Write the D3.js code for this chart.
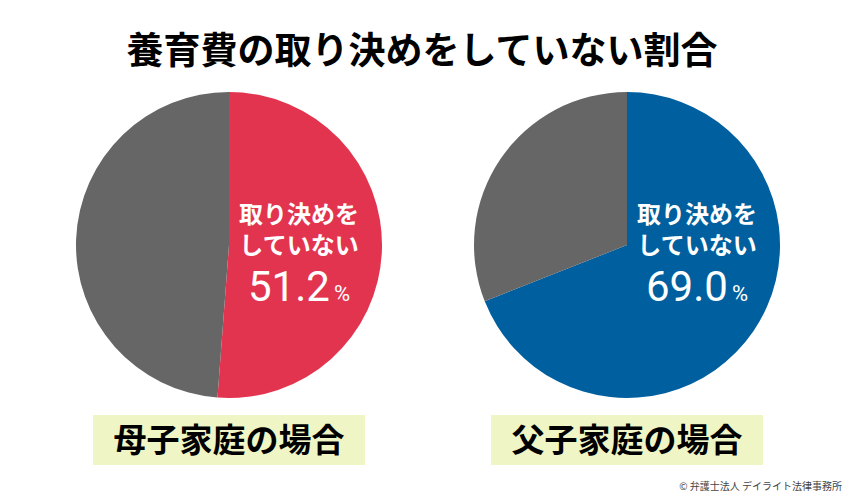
<!DOCTYPE html>
<html><head><meta charset="utf-8">
<script src="https://cdn.jsdelivr.net/npm/d3@7"></script>
<style>body{margin:0;background:#fff;font-family:"Noto Sans CJK JP",sans-serif;}</style>
</head><body>
<script>
// data
var groups = ["母子家庭の場合", "父子家庭の場合"];
var notDecided = [51.2, 69.0];
var colors = ["#e3344f", "#005f9e"];
var grey = "#666666";
var title = "養育費の取り決めをしていない割合";

var w = 850, h = 500;
var svg = d3.select("body").append("svg").attr("width", w).attr("height", h);

svg.append("text").attr("x", 422).attr("y", 64).attr("text-anchor", "middle")
  .style("font-size", "37px").style("font-weight", "bold").text(title);

var cx = d3.scalePoint().domain(groups).range([229, 627]);
var pie = d3.pie().sort(null).value(function(d){ return d; });
var arc = d3.arc().innerRadius(0).outerRadius(153);

groups.forEach(function(g, i){
  var x = cx(g);
  var gg = svg.append("g").attr("transform", "translate(" + x + ",245)");
  gg.selectAll("path").data(pie([notDecided[i], 100 - notDecided[i]]))
    .enter().append("path").attr("d", arc)
    .attr("fill", function(d, j){ return j == 0 ? colors[i] : grey; });

  var t = gg.append("g").attr("fill", "#fff").attr("text-anchor", "middle")
    .style("font-weight", "bold");
  t.append("text").attr("x", 70).attr("y", -22).style("font-size", "24px").text("取り決めを");
  t.append("text").attr("x", 70).attr("y", 9).style("font-size", "24px").text("していない");
  var v = t.append("text").attr("x", 70).attr("y", 56).style("font-family", "Roboto, sans-serif")
    .style("font-weight", "normal");
  v.append("tspan").style("font-size", "42px").text(notDecided[i].toFixed(1));
  v.append("tspan").style("font-size", "22px").attr("dx", 4).text("%");

  svg.append("rect").attr("x", x - 136).attr("y", 415).attr("width", 272).attr("height", 50)
    .attr("fill", "#eff5c4");
  svg.append("text").attr("x", x).attr("y", 452).attr("text-anchor", "middle")
    .style("font-size", "33px").style("font-weight", "bold").text(g);
});

svg.append("text").attr("x", 842).attr("y", 490).attr("text-anchor", "end")
  .style("font-size", "10px").attr("fill", "#444").text("© 弁護士法人 デイライト法律事務所");
</script>
</body></html>
